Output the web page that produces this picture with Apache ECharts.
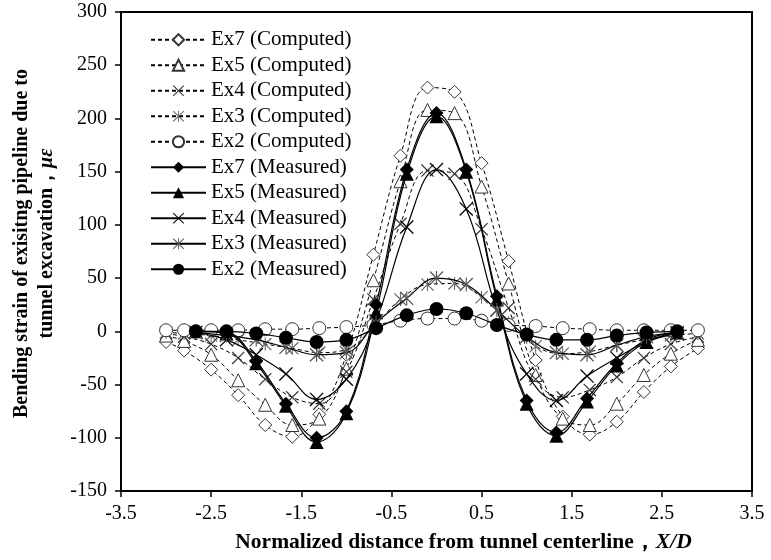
<!DOCTYPE html>
<html>
<head>
  <meta charset="utf-8">
  <title>bending strain</title>
  <script src="https://cdn.jsdelivr.net/npm/echarts@6/dist/echarts.min.js"></script>
  <style>
    html, body { margin: 0; padding: 0; background: #fff; }
    #main { width: 771px; height: 560px; }
  </style>
</head>
<body>
  <div id="main"></div>
  <script type="text/javascript">
    // x positions (X/D)
    var compX = [-3.0, -2.8, -2.5, -2.2, -1.9, -1.6, -1.3, -1.0, -0.7, -0.4, -0.1, 0.2, 0.5, 0.8, 1.1, 1.4, 1.7, 2.0, 2.3, 2.6, 2.9];
    var measX = [-2.67, -2.33, -2.0, -1.67, -1.33, -1.0, -0.67, -0.33, 0, 0.33, 0.67, 1.0, 1.33, 1.67, 2.0, 2.33, 2.67];

    // computed strains
    var ex7Comp = [-10, -18, -36, -60, -88, -99, -78, -22, 72, 165, 229, 225, 158, 66, -27, -80, -97, -85, -57, -33, -16];
    var ex5Comp = [-4, -9, -22, -46, -69, -88, -82, -35, 48, 141, 208, 205, 136, 45, -41, -82, -88, -68, -41, -21, -8];
    var ex4Comp = [-2, -5, -12, -25, -45, -62, -68, -38, 30, 101, 151, 148, 96, 22, -45, -62, -55, -43, -25, -12, -5];
    var ex3Comp = [-1, -2, -4, -8, -12, -16, -20, -17, 4, 30, 44, 45, 32, 8, -14, -21, -19, -13, -8, -4, -2];
    var ex2Comp = [1, 1, 1, 1, 2, 2, 3, 4, 6, 10, 12, 12, 10, 6, 5, 3, 2, 1, 1, 1, 1];

    // measured strains
    var ex7Meas = [0, -1, -28, -68, -100, -75, 25, 152, 205, 152, 33, -65, -95, -63, -30, -8, -1];
    var ex5Meas = [0, -2, -30, -70, -104, -77, 18, 148, 202, 150, 30, -68, -98, -66, -32, -10, -1];
    var ex4Meas = [-1, -8, -22, -40, -64, -45, 10, 98, 152, 115, 20, -40, -65, -42, -25, -10, -2];
    var ex3Meas = [-1, -4, -8, -15, -22, -20, 8, 31, 50, 44, 20, -5, -20, -22, -13, -5, -1];
    var ex2Meas = [0, 0, -2, -6, -10, -8, 3, 15, 21, 17, 6, -3, -8, -8, -4, -1, 0];

    var names = ['Ex7 (Computed)', 'Ex5 (Computed)', 'Ex4 (Computed)', 'Ex3 (Computed)', 'Ex2 (Computed)',
                 'Ex7 (Measured)', 'Ex5 (Measured)', 'Ex4 (Measured)', 'Ex3 (Measured)', 'Ex2 (Measured)'];

    var xPath = 'path://M0,1.3L1.3,0L20,18.7L18.7,20Z M18.7,0L20,1.3L1.3,20L0,18.7Z';
    var starPath = 'path://M0,1.3L1.3,0L20,18.7L18.7,20Z M18.7,0L20,1.3L1.3,20L0,18.7Z M9.2,0L10.8,0L10.8,20L9.2,20Z';
    var font = 'Liberation Serif, Times New Roman, serif';

    function pairs(xs, ys) {
      return xs.map(function (x, i) { return [x, ys[i]]; });
    }

    function computed(name, ys, symbol, fill, edge) {
      return {
        name: name, type: 'line', smooth: 0.4, data: pairs(compX, ys),
        symbol: symbol, symbolSize: 13,
        lineStyle: { color: '#000', width: 1, type: [4, 3] },
        itemStyle: { color: fill, borderColor: edge, borderWidth: edge ? 1 : 0 },
        z: 2
      };
    }
    function measured(name, ys, symbol, fill) {
      return {
        name: name, type: 'line', smooth: 0.4, data: pairs(measX, ys),
        symbol: symbol, symbolSize: 14,
        lineStyle: { color: '#000', width: 1.2, type: 'solid' },
        itemStyle: { color: fill, borderWidth: 0 },
        z: 3
      };
    }

    var chart = echarts.init(document.getElementById('main'));
    var option = {
      animation: false,
      grid: { left: 121, right: 19, top: 12, bottom: 69, show: true, borderColor: '#000', borderWidth: 2 },
      legend: {
        orient: 'vertical', left: 145, top: 23,
        itemWidth: 55, itemHeight: 14, itemGap: 2,
        data: names,
        textStyle: { fontFamily: font, fontSize: 21, color: '#000', lineHeight: 23.5 }
      },
      xAxis: {
        type: 'value', min: -3.5, max: 3.5, interval: 1,
        axisLine: { onZero: false, lineStyle: { color: '#000', width: 2 } },
        axisTick: { show: true, length: 6, lineStyle: { color: '#000', width: 1.5 } },
        splitLine: { show: false },
        axisLabel: { fontFamily: font, fontSize: 20, color: '#000', margin: 13,
                     showMinLabel: true, showMaxLabel: true,
                     formatter: function (v) { return v.toFixed(1); } },
        name: '{b|Normalized distance from tunnel centerline，}{i|X/D}',
        nameLocation: 'middle', nameGap: 40,
        nameTextStyle: {
          padding: [0, 0, 0, 54],
          rich: {
            b: { fontFamily: font, fontSize: 21.5, fontWeight: 'bold', color: '#000' },
            i: { fontFamily: font, fontSize: 21.5, fontWeight: 'bold', fontStyle: 'italic', color: '#000' }
          }
        }
      },
      yAxis: {
        type: 'value', min: -150, max: 300, interval: 50,
        axisLine: { show: true, onZero: false, lineStyle: { color: '#000', width: 2 } },
        axisTick: { show: true, length: 6, lineStyle: { color: '#000', width: 1.5 } },
        splitLine: { show: false },
        axisLabel: { fontFamily: font, fontSize: 20, color: '#000', margin: 14 },
        name: '{b|Bending strain of exisitng pipeline due to}\n{b|tunnel excavation，}{i|με}',
        nameLocation: 'middle', nameGap: 44, nameRotate: 90,
        nameTextStyle: {
          align: 'center', lineHeight: 25,
          padding: [0, 0, 0, 16],
          rich: {
            b: { fontFamily: font, fontSize: 20, fontWeight: 'bold', color: '#000', lineHeight: 25 },
            i: { fontFamily: font, fontSize: 20, fontWeight: 'bold', fontStyle: 'italic', color: '#000', lineHeight: 25 }
          }
        }
      },
      series: [
        computed(names[0], ex7Comp, 'diamond', '#fff', '#333'),
        computed(names[1], ex5Comp, 'triangle', '#fff', '#333'),
        computed(names[2], ex4Comp, xPath, '#333', null),
        computed(names[3], ex3Comp, starPath, '#666', null),
        computed(names[4], ex2Comp, 'circle', '#fff', '#333'),
        measured(names[5], ex7Meas, 'diamond', '#000'),
        measured(names[6], ex5Meas, 'triangle', '#000'),
        measured(names[7], ex4Meas, xPath, '#000'),
        measured(names[8], ex3Meas, starPath, '#555'),
        measured(names[9], ex2Meas, 'circle', '#000')
      ]
    };
    chart.setOption(option);
  </script>
</body>
</html>
